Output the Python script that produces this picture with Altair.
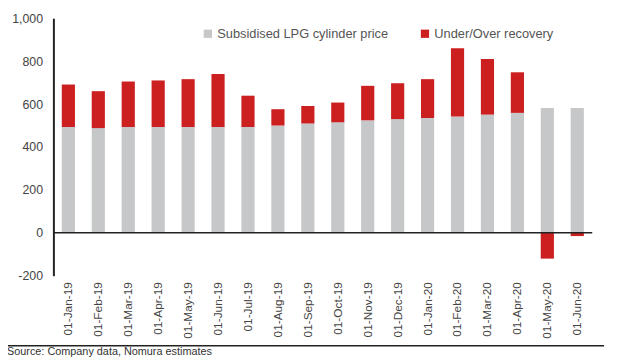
import altair as alt
import pandas as pd

months = ["01-Jan-19", "01-Feb-19", "01-Mar-19", "01-Apr-19", "01-May-19", "01-Jun-19",
          "01-Jul-19", "01-Aug-19", "01-Sep-19", "01-Oct-19", "01-Nov-19", "01-Dec-19",
          "01-Jan-20", "01-Feb-20", "01-Mar-20", "01-Apr-20", "01-May-20", "01-Jun-20"]
lpg_price = [493, 488, 493, 493, 493, 493, 493, 500, 510, 515, 524, 530,
             535, 542, 551, 559, 582, 582]
recovery = [198, 172, 212, 217, 223, 247, 146, 76, 81, 92, 161, 167,
            181, 318, 259, 189, -120, -15]
series_names = ["Subsidised LPG cylinder price", "Under/Over recovery"]
y_ticks = [-200, 0, 200, 400, 600, 800, 1000]
source_text = "Source: Company data, Nomura estimates"

rows = []
for m, p, r in zip(months, lpg_price, recovery):
    rows.append({"month": m, "series": series_names[0], "start": 0, "end": p})
    if r >= 0:
        rows.append({"month": m, "series": series_names[1], "start": p, "end": p + r})
    else:
        rows.append({"month": m, "series": series_names[1], "start": 0, "end": r})
df = pd.DataFrame(rows)

FONT = "Liberation Sans"

bars = alt.Chart(df).mark_bar().encode(
    x=alt.X("month:N", sort=months,
            scale=alt.Scale(paddingInner=0.56, paddingOuter=0.28),
            axis=alt.Axis(title=None, labelAngle=-90, domain=False, ticks=False,
                          labelPadding=6, labelFontSize=12, labelColor="#444",
                          labelFont=FONT)),
    y=alt.Y("start:Q", scale=alt.Scale(domain=[-200, 1000], nice=False),
            axis=alt.Axis(title=None, values=y_ticks, grid=False,
                          labelExpr="datum.value < 0 ? '-' + format(-datum.value, ',') : format(datum.value, ',')",
                          ticks=False, domainColor="#222", domainWidth=2,
                          labelPadding=11, labelFontSize=12.5, labelColor="#444",
                          labelFont=FONT)),
    y2="end:Q",
    color=alt.Color("series:N", sort=series_names,
                    scale=alt.Scale(domain=series_names, range=["#c5c7c9", "#cc1f1f"]),
                    legend=alt.Legend(title=None, orient="none", legendX=150, legendY=9,
                                      direction="horizontal", symbolType="square",
                                      symbolSize=70, symbolStrokeWidth=0,
                                      labelFontSize=13, labelColor="#555",
                                      labelFont=FONT, columnPadding=30,
                                      labelOffset=3, labelLimit=0)),
)

zero = alt.Chart(pd.DataFrame({"v": [0]})).mark_rule(color="#222", strokeWidth=1.5).encode(
    y=alt.Y("v:Q")
)

sep = alt.Chart(pd.DataFrame({"v": [0]})).mark_rule(color="#222", strokeWidth=1.5).encode(
    x=alt.value(-49), x2=alt.value(558), y=alt.value(332)
)

src = alt.Chart(pd.DataFrame({"t": [source_text]})).mark_text(
    align="left", baseline="bottom", fontSize=11, color="#333", font=FONT
).encode(x=alt.value(-47), y=alt.value(343), text="t:N")

chart = alt.layer(bars, zero, sep, src).properties(
    width=546, height=261,
    autosize=alt.AutoSizeParams(type="none"),
    padding={"left": 46, "top": 8, "right": 18, "bottom": 83},
).configure_view(stroke=None)

chart.save("out.html", embed_options={"renderer": "svg", "actions": False})
